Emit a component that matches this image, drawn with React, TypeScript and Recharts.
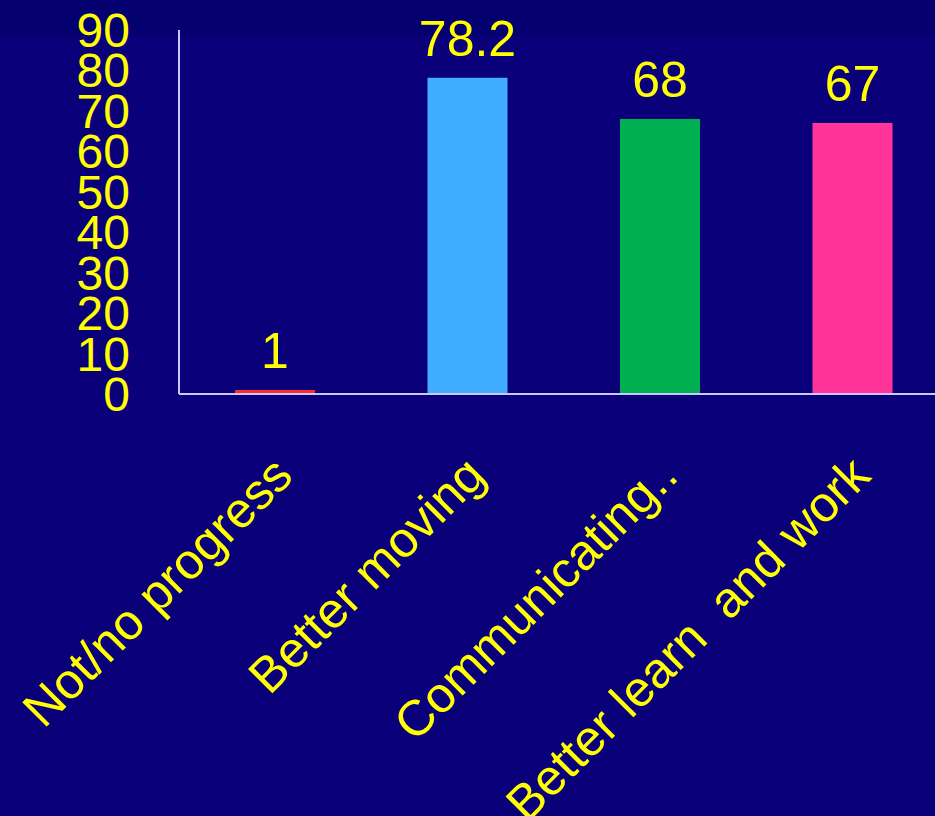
import { BarChart, Bar, XAxis, YAxis, Cell, LabelList } from "recharts"

const categories = ["Not/no progress", "Better moving", "Communicating..", "Better learn  and work"]
const values = [1, 78.2, 68, 67]
const barColors = ["#ff2b2b", "#3facff", "#00b050", "#ff3399"]
const yTicks = [0, 10, 20, 30, 40, 50, 60, 70, 80, 90]

const data = categories.map((name, i) => ({ name, value: values[i] }))

const YELLOW = "#ffff00"
const BG = "#0a007a"
const FONT = "'Liberation Sans', Arial, sans-serif"

// rotated category label, anchored at its end just below the bar
function SlantTick(props: any) {
  const { x, y, payload } = props
  const tx = x + 20
  const ty = y + 76
  return (
    <text
      x={tx}
      y={ty}
      transform={`rotate(-45, ${tx}, ${ty})`}
      textAnchor="end"
      fill={YELLOW}
      fontSize={50}
      fontFamily={FONT}
      style={{ whiteSpace: "pre" }}
    >
      {payload.value}
    </text>
  )
}

export default function App() {
  return (
    <div
      style={{
        position: "fixed",
        left: 0,
        top: 0,
        width: 935,
        height: 816,
        overflow: "hidden",
        background: BG,
      }}
    >
      <div style={{ position: "absolute", left: 0, top: 0, width: 935, height: 36, background: "#040070" }} />
      <div style={{ position: "absolute", left: 0, top: 0 }}>
        <BarChart
          width={960}
          height={816}
          data={data}
          margin={{ top: 30, right: 11, left: 0, bottom: 392 }}
          style={{ fontFamily: FONT }}
        >
          <XAxis
            dataKey="name"
            height={30}
            interval={0}
            tickLine={false}
            axisLine={{ stroke: "#c8c8ff", strokeWidth: 2 }}
            tick={<SlantTick />}
          />
          <YAxis
            width={179}
            domain={[0, 90]}
            ticks={yTicks}
            interval={0}
            tickLine={false}
            tickMargin={43}
            axisLine={{ stroke: "#c8c8ff", strokeWidth: 2 }}
            tick={{ fill: YELLOW, fontSize: 48, fontFamily: FONT }}
          />
          <Bar dataKey="value" barSize={80} isAnimationActive={false}>
            {data.map((entry, index) => (
              <Cell key={`cell-${index}`} fill={barColors[index]} />
            ))}
            <LabelList
              dataKey="value"
              position="top"
              offset={22}
              fill={YELLOW}
              fontSize={50}
              fontFamily={FONT}
            />
          </Bar>
        </BarChart>
      </div>
    </div>
  )
}
